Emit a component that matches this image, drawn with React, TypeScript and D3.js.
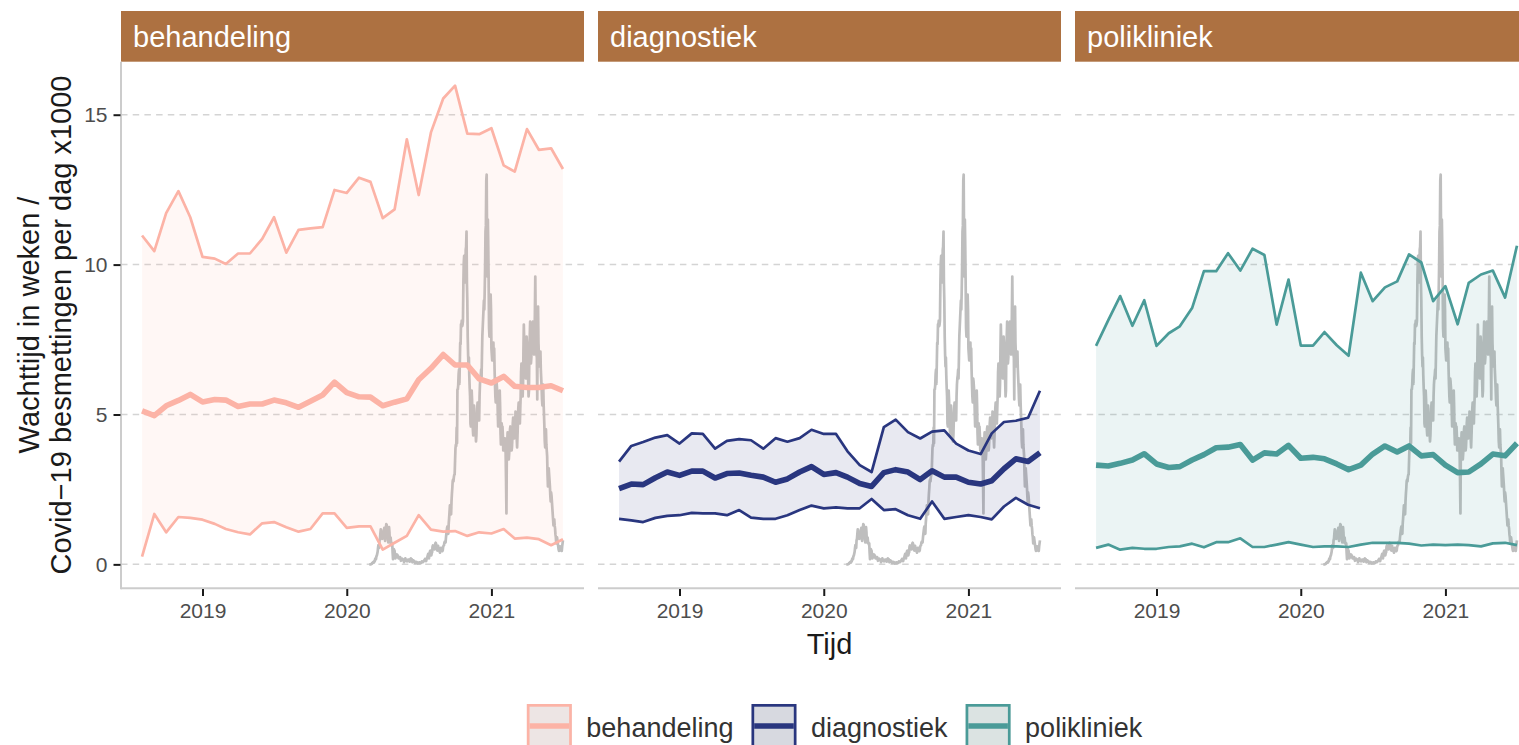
import React, { useEffect, useRef } from "react";
import * as d3 from "d3";

// Wachttijd per zorgsoort (min / mediaan / max) met de Covid-19 besmettingen per dag erachter

const facets = ["behandeling", "diagnostiek", "polikliniek"];

const months = [
  "2018-08", "2018-09", "2018-10", "2018-11", "2018-12",
  "2019-01", "2019-02", "2019-03", "2019-04", "2019-05", "2019-06",
  "2019-07", "2019-08", "2019-09", "2019-10", "2019-11", "2019-12",
  "2020-01", "2020-02", "2020-03", "2020-04", "2020-05", "2020-06",
  "2020-07", "2020-08", "2020-09", "2020-10", "2020-11", "2020-12",
  "2021-01", "2021-02", "2021-03", "2021-04", "2021-05", "2021-06", "2021-07",
];

const behandelingUpper = [10.97, 10.45, 11.72, 12.45, 11.58, 10.26, 10.2, 10.02, 10.37, 10.37, 10.86, 11.58, 10.4, 11.16, 11.21, 11.25, 12.49, 12.39, 12.9, 12.76, 11.55, 11.84, 14.18, 12.32, 14.41, 15.54, 15.97, 14.37, 14.35, 14.55, 13.31, 13.1, 14.52, 13.83, 13.88, 13.19];
const behandelingMedian = [5.12, 4.96, 5.29, 5.47, 5.67, 5.42, 5.5, 5.48, 5.27, 5.35, 5.35, 5.48, 5.39, 5.24, 5.44, 5.65, 6.08, 5.73, 5.59, 5.58, 5.29, 5.41, 5.52, 6.16, 6.54, 7.0, 6.65, 6.65, 6.19, 6.05, 6.27, 5.94, 5.9, 5.9, 5.96, 5.79];
const behandelingLower = [0.26, 1.68, 1.07, 1.58, 1.55, 1.49, 1.35, 1.18, 1.07, 1.0, 1.37, 1.41, 1.24, 1.09, 1.18, 1.7, 1.7, 1.22, 1.27, 1.27, 0.49, 0.72, 0.95, 1.64, 1.16, 1.09, 1.11, 0.95, 1.07, 1.03, 1.18, 0.86, 0.89, 0.84, 0.64, 0.84];

const diagnostiekUpper = [3.43, 3.95, 4.08, 4.23, 4.31, 4.03, 4.37, 4.35, 3.86, 4.12, 4.18, 4.14, 3.86, 4.21, 4.09, 4.21, 4.49, 4.35, 4.35, 3.77, 3.31, 3.08, 4.58, 4.83, 4.41, 4.2, 4.43, 4.47, 4.03, 3.8, 3.68, 4.37, 4.75, 4.79, 4.89, 5.79];
const diagnostiekMedian = [2.53, 2.68, 2.66, 2.89, 3.08, 2.97, 3.11, 3.11, 2.88, 3.03, 3.05, 2.97, 2.91, 2.74, 2.85, 3.08, 3.26, 3.0, 3.06, 2.91, 2.7, 2.6, 3.06, 3.16, 3.08, 2.83, 3.12, 2.91, 2.91, 2.74, 2.68, 2.79, 3.19, 3.52, 3.43, 3.72];
const diagnostiekLower = [1.52, 1.47, 1.41, 1.55, 1.62, 1.64, 1.72, 1.7, 1.7, 1.64, 1.81, 1.56, 1.52, 1.52, 1.64, 1.81, 1.96, 1.87, 1.9, 1.87, 1.87, 2.18, 1.81, 1.84, 1.64, 1.52, 2.1, 1.52, 1.58, 1.64, 1.58, 1.5, 1.93, 2.22, 1.99, 1.87];

const polikliniekUpper = [7.29, 8.15, 8.95, 7.96, 8.81, 7.29, 7.71, 7.94, 8.55, 9.78, 9.78, 10.38, 9.8, 10.53, 10.32, 8.0, 9.5, 7.3, 7.3, 7.75, 7.31, 6.96, 9.73, 8.78, 9.24, 9.44, 10.34, 10.07, 8.78, 9.28, 8.01, 9.39, 9.67, 9.8, 8.9, 10.63];
const polikliniekMedian = [3.31, 3.28, 3.37, 3.48, 3.69, 3.35, 3.23, 3.26, 3.48, 3.66, 3.89, 3.91, 4.0, 3.48, 3.72, 3.68, 3.97, 3.54, 3.57, 3.52, 3.35, 3.16, 3.31, 3.68, 3.95, 3.75, 3.95, 3.62, 3.66, 3.31, 3.06, 3.08, 3.35, 3.68, 3.62, 4.04];
const polikliniekLower = [0.55, 0.66, 0.49, 0.55, 0.52, 0.52, 0.58, 0.6, 0.69, 0.57, 0.74, 0.74, 0.87, 0.58, 0.58, 0.66, 0.74, 0.66, 0.58, 0.6, 0.6, 0.58, 0.66, 0.72, 0.72, 0.72, 0.69, 0.63, 0.66, 0.64, 0.66, 0.64, 0.6, 0.7, 0.72, 0.64];

// besmettingen per dag (x1000), een regel per week, vanaf 27 feb 2020
const covidStart = "2020-02-27";
const covidPerDay = [
  0, 0, 0, 0, 0.01, 0.01, 0.01,
  0.04, 0.05, 0.06, 0.08, 0.06, 0.06, 0.12,
  0.11, 0.19, 0.16, 0.18, 0.28, 0.29, 0.35,
  0.41, 0.53, 0.64, 0.57, 0.55, 0.81, 0.85,
  1.02, 1.17, 1.16, 1.1, 0.88, 0.85, 1.02,
  1.08, 1.03, 0.9, 1.22, 0.95, 0.78, 0.97,
  1.21, 1.34, 1.32, 1.17, 0.96, 0.87, 0.73,
  1.06, 1.24, 1.07, 0.75, 0.73, 0.89, 0.75,
  0.73, 0.66, 0.7, 0.4, 0.17, 0.39, 0.51,
  0.48, 0.45, 0.34, 0.2, 0.25, 0.23, 0.3,
  0.33, 0.32, 0.29, 0.24, 0.2, 0.2, 0.2,
  0.24, 0.24, 0.19, 0.12, 0.13, 0.17, 0.19,
  0.18, 0.17, 0.17, 0.13, 0.07, 0.13, 0.16,
  0.2, 0.17, 0.14, 0.12, 0.13, 0.1, 0.14,
  0.16, 0.16, 0.16, 0.15, 0.09, 0.09, 0.18,
  0.2, 0.14, 0.18, 0.13, 0.07, 0.1, 0.13,
  0.13, 0.11, 0.1, 0.06, 0.05, 0.05, 0.08,
  0.07, 0.08, 0.07, 0.05, 0.03, 0.05, 0.05,
  0.07, 0.07, 0.07, 0.03, 0.04, 0.05, 0.06,
  0.1, 0.09, 0.07, 0.07, 0.1, 0.11, 0.13,
  0.15, 0.18, 0.13, 0.11, 0.11, 0.19, 0.2,
  0.25, 0.3, 0.35, 0.22, 0.2, 0.33, 0.4,
  0.45, 0.46, 0.44, 0.3, 0.38, 0.4, 0.59,
  0.63, 0.6, 0.59, 0.5, 0.5, 0.62, 0.7,
  0.72, 0.68, 0.6, 0.52, 0.46, 0.56, 0.62,
  0.55, 0.51, 0.47, 0.42, 0.39, 0.48, 0.55,
  0.54, 0.53, 0.48, 0.44, 0.48, 0.6, 0.62,
  0.64, 0.72, 0.76, 0.72, 0.73, 0.89, 1.02,
  1.13, 1.23, 1.27, 1.07, 1.02, 1.37, 1.54,
  1.75, 1.97, 1.97, 1.7, 1.67, 2.1, 2.35,
  2.54, 2.78, 2.83, 2.77, 2.91, 2.99, 3.0,
  3.45, 3.86, 3.99, 3.95, 4.56, 4.04, 5.83,
  5.83, 5.98, 6.34, 6.5, 6.02, 6.68, 7.39,
  7.34, 8.01, 7.98, 8.13, 7.95, 8.0, 8.13,
  9.3, 10.04, 10.29, 10.02, 9.98, 9.41, 10.5,
  10.6, 11.1, 9.4, 8.8, 7.6, 7.0, 6.6,
  6.9, 6.3, 5.9, 5.6, 4.7, 4.6, 5.3,
  5.8, 5.5, 5.0, 4.5, 4.3, 4.6, 5.3,
  5.0, 4.9, 4.7, 4.4, 4.1, 4.3, 4.8,
  5.2, 5.4, 5.1, 4.9, 4.8, 4.8, 5.6,
  6.0, 6.2, 6.3, 6.5, 6.2, 6.9, 7.6,
  7.9, 8.2, 8.5, 8.8, 8.5, 9.1, 9.9,
  11.1, 11.3, 12.8, 13.0, 10.8, 9.6, 11.5,
  10.6, 9.4, 7.9, 7.6, 8.1, 8.7, 9.0,
  8.5, 7.2, 7.0, 6.8, 7.1, 6.9, 7.4,
  6.8, 7.2, 6.5, 6.0, 5.6, 5.4, 6.2,
  6.1, 5.9, 5.7, 5.1, 4.6, 5.0, 5.4,
  5.6, 5.8, 5.3, 4.4, 4.0, 4.1, 4.7,
  4.5, 4.6, 4.3, 3.8, 3.9, 3.9, 4.2,
  4.2, 4.0, 3.7, 2.8, 1.7, 3.8, 4.1,
  4.4, 4.1, 3.8, 3.5, 3.7, 4.0, 4.5,
  4.6, 4.3, 4.0, 3.8, 3.9, 4.2, 4.7,
  4.9, 4.7, 4.3, 4.2, 4.4, 4.6, 5.1,
  5.0, 4.6, 4.2, 3.9, 4.3, 4.7, 5.2,
  5.4, 5.3, 5.0, 4.7, 5.2, 5.6, 6.4,
  6.7, 6.3, 6.0, 5.6, 6.0, 7.1, 8.0,
  7.4, 7.5, 6.9, 6.5, 6.2, 7.2, 7.6,
  7.3, 6.8, 7.0, 6.1, 5.6, 5.8, 7.2,
  7.6, 8.1, 7.0, 6.7, 6.9, 7.3, 8.0,
  8.0, 8.1, 7.6, 7.2, 7.0, 7.4, 8.4,
  9.6, 8.1, 7.4, 7.0, 6.9, 5.5, 7.9,
  8.6, 7.4, 7.0, 6.8, 6.6, 6.7, 7.1,
  6.5, 6.2, 5.9, 5.5, 5.3, 5.6, 6.0,
  5.4, 5.0, 4.6, 4.1, 3.9, 4.3, 4.5,
  4.0, 3.8, 3.6, 3.0, 2.6, 3.0, 3.2,
  3.0, 2.8, 2.6, 2.3, 2.1, 2.4, 2.3,
  2.1, 1.9, 1.7, 1.5, 1.3, 1.5, 1.5,
  1.3, 1.2, 1.0, 0.9, 0.7, 0.8, 0.9,
  0.8, 0.7, 0.6, 0.5, 0.45, 0.55, 0.6,
  0.6, 0.55, 0.5, 0.45, 0.45, 0.6, 0.7,
  0.8,
];

const yTicks = [0, 5, 10, 15];
const xTickYears = ["2019", "2020", "2021"];

const colors = ["#fcb3a6", "#29367f", "#4a9b98"];

export default function App() {
  const ref = useRef<SVGSVGElement>(null);

  useEffect(() => {
    const svg = d3.select(ref.current);
    svg.selectAll("*").remove();

    const font = "'Liberation Sans', Arial, Helvetica, sans-serif";
    const panelW = 463, gap = 14, left = 121;
    const top = 61.7, bottom = 588.3, stripTop = 11;

    const series = [
      { upper: behandelingUpper, median: behandelingMedian, lower: behandelingLower },
      { upper: diagnostiekUpper, median: diagnostiekMedian, lower: diagnostiekLower },
      { upper: polikliniekUpper, median: polikliniekMedian, lower: polikliniekLower },
    ];

    const monthDates = months.map((m) => d3.timeParse("%Y-%m")(m) as Date);
    const day0 = d3.timeParse("%Y-%m-%d")(covidStart) as Date;
    const covid = covidPerDay.map((v, i) => ({ date: d3.timeDay.offset(day0, i), v }));
    const yearDates = xTickYears.map((s) => d3.timeParse("%Y")(s) as Date);

    // ggplot style 5% expansion
    const t0 = +monthDates[0], t1 = +monthDates[monthDates.length - 1];
    const pad = (t1 - t0) * 0.05;
    const yMax = d3.max([...series.flatMap((s) => s.upper), ...covidPerDay]) as number;
    const y = d3.scaleLinear().domain([-0.05 * yMax, 1.05 * yMax]).range([bottom, top]);

    facets.forEach((name, i) => {
      const x0 = left + i * (panelW + gap);
      const x = d3.scaleTime().domain([new Date(t0 - pad), new Date(t1 + pad)]).range([x0, x0 + panelW]);
      const col = colors[i];
      const s = series[i];
      const rows = monthDates.map((d, j) => ({ date: d, upper: s.upper[j], median: s.median[j], lower: s.lower[j] }));
      const g = svg.append("g");

      // strip
      g.append("rect").attr("x", x0).attr("y", stripTop).attr("width", panelW).attr("height", top - stripTop).attr("fill", "#ad7141");
      g.append("text").attr("x", x0 + 12).attr("y", 47).attr("fill", "#ffffff")
        .style("font-family", font).style("font-size", "29px").text(name);

      // grid
      g.selectAll(".grid").data(yTicks).join("line").attr("class", "grid")
        .attr("x1", x0).attr("x2", x0 + panelW)
        .attr("y1", (d) => y(d)).attr("y2", (d) => y(d))
        .attr("stroke", "#d4d4d4").attr("stroke-width", 1.5).attr("stroke-dasharray", "6.5,5.2");

      // covid line
      const covidLine = d3.line<any>().x((d) => x(d.date)).y((d) => y(d.v));
      g.append("path").datum(covid).attr("d", covidLine).attr("fill", "none")
        .attr("stroke", "#bebebe").attr("stroke-width", 2.7).attr("stroke-linejoin", "round");

      // ribbon
      const area = d3.area<any>().x((d) => x(d.date)).y0((d) => y(d.lower)).y1((d) => y(d.upper));
      g.append("path").datum(rows).attr("d", area).attr("fill", col).attr("fill-opacity", 0.11);

      ["upper", "lower"].forEach((k) => {
        const ln = d3.line<any>().x((d) => x(d.date)).y((d) => y(d[k]));
        g.append("path").datum(rows).attr("d", ln).attr("fill", "none")
          .attr("stroke", col).attr("stroke-width", 2.7).attr("stroke-linejoin", "round");
      });

      const med = d3.line<any>().x((d) => x(d.date)).y((d) => y(d.median));
      g.append("path").datum(rows).attr("d", med).attr("fill", "none")
        .attr("stroke", col).attr("stroke-width", 5.6).attr("stroke-linejoin", "round");

      // axis lines
      g.append("line").attr("x1", x0).attr("x2", x0 + panelW).attr("y1", bottom).attr("y2", bottom)
        .attr("stroke", "#cccccc").attr("stroke-width", 2);
      if (i === 0) {
        g.append("line").attr("x1", x0).attr("x2", x0).attr("y1", top).attr("y2", bottom + 1)
          .attr("stroke", "#cccccc").attr("stroke-width", 2);
      }

      const xAxis = g.append("g").attr("transform", `translate(0, ${bottom + 0.7})`)
        .call(d3.axisBottom(x).tickValues(yearDates).tickFormat(d3.timeFormat("%Y") as any).tickSize(7).tickPadding(7));
      xAxis.select(".domain").remove();
      xAxis.selectAll("line").attr("stroke", "#1a1a1a").attr("stroke-width", 2);
      xAxis.selectAll("text").attr("fill", "#4d4d4d").style("font-family", font).style("font-size", "21px");

      if (i === 0) {
        const yAxis = g.append("g").attr("transform", `translate(${x0 - 0.5}, 0)`)
          .call(d3.axisLeft(y).tickValues(yTicks).tickSize(7).tickPadding(6));
        yAxis.select(".domain").remove();
        yAxis.selectAll("line").attr("stroke", "#1a1a1a").attr("stroke-width", 2);
        yAxis.selectAll("text").attr("fill", "#4d4d4d").style("font-family", font).style("font-size", "21px");
      }
    });

    // axis titles
    const midY = (top + bottom) / 2;
    svg.append("text").attr("transform", `translate(39, ${midY}) rotate(-90)`).attr("text-anchor", "middle")
      .attr("fill", "#1a1a1a").style("font-family", font).style("font-size", "29px").text("Wachttijd in weken /");
    svg.append("text").attr("transform", `translate(71, ${midY}) rotate(-90)`).attr("text-anchor", "middle")
      .attr("fill", "#1a1a1a").style("font-family", font).style("font-size", "29px").text("Covid\u221219 besmettingen per dag x1000");
    const panelsRight = left + 3 * panelW + 2 * gap;
    svg.append("text").attr("x", (left + panelsRight) / 2).attr("y", 654).attr("text-anchor", "middle")
      .attr("fill", "#1a1a1a").style("font-family", font).style("font-size", "29px").text("Tijd");

    // legend, centred under the panels
    const keySize = 45, keyGap = 14.5, itemGap = 18;
    const legend = svg.append("g");
    const labels = facets.map((f) =>
      legend.append("text").attr("fill", "#333333").style("font-family", font).style("font-size", "27px").text(f)
    );
    const widths = labels.map((t) => (t.node() as SVGTextElement).getComputedTextLength());
    const total = d3.sum(widths) + facets.length * (keySize + keyGap) + (facets.length - 1) * itemGap;
    let cx = (left + panelsRight) / 2 - total / 2 + 5;
    const keyTop = 704;
    facets.forEach((f, i) => {
      legend.append("rect").attr("x", cx).attr("y", keyTop).attr("width", keySize).attr("height", keySize).attr("fill", "#ebebeb");
      legend.append("rect").attr("x", cx + 1.35).attr("y", keyTop + 1.35).attr("width", keySize - 2.7).attr("height", keySize - 2.7)
        .attr("fill", colors[i]).attr("fill-opacity", 0.1).attr("stroke", colors[i]).attr("stroke-width", 2.7);
      legend.append("line").attr("x1", cx + 2.7).attr("x2", cx + keySize - 2.7)
        .attr("y1", keyTop + 22).attr("y2", keyTop + 22)
        .attr("stroke", colors[i]).attr("stroke-width", 5.6);
      labels[i].attr("x", cx + keySize + keyGap).attr("y", 737);
      cx += keySize + keyGap + widths[i] + itemGap;
    });
  }, []);

  return (
    <svg ref={ref} width={1519} height={745}
      style={{ position: "absolute", left: 0, top: 0, display: "block", background: "#ffffff" }} />
  );
}
